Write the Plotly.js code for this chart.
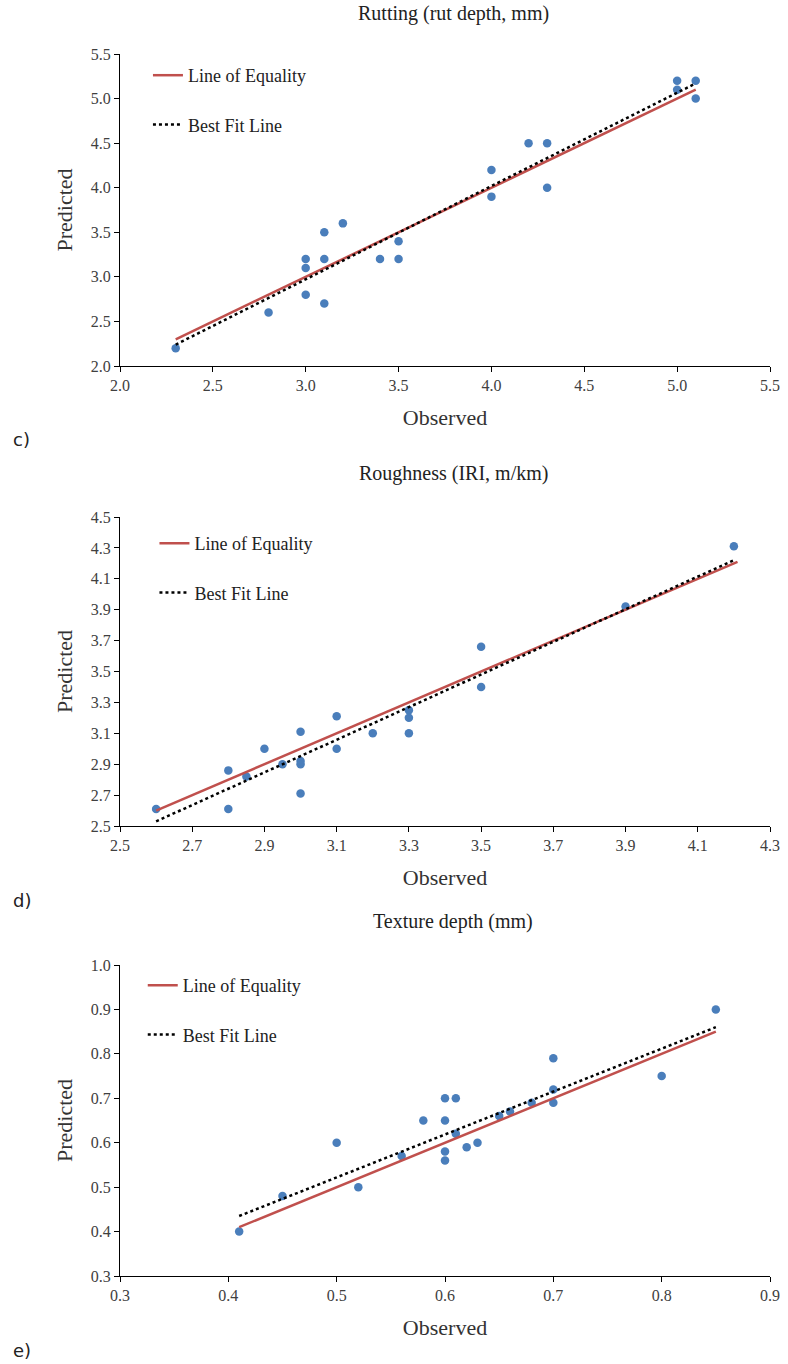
<!DOCTYPE html>
<html>
<head>
<meta charset="utf-8">
<script src="https://cdn.plot.ly/plotly-3.0.1.min.js"></script>
<style>html,body{margin:0;padding:0;background:#fff;}#chart{width:788px;height:1364px;}</style>
</head>
<body>
<div id="chart"></div>
<script>
// ---- Data ----
const panelTitles = ["Rutting (rut depth, mm)", "Roughness (IRI, m/km)", "Texture depth (mm)"];
const panelLabels = ["c)", "d)", "e)"];

const rutObs  = [2.3, 2.8, 3.0, 3.0, 3.0, 3.1, 3.1, 3.1, 3.2, 3.4, 3.5, 3.5, 4.0, 4.0, 4.2, 4.3, 4.3, 5.0, 5.0, 5.1, 5.1];
const rutPred = [2.2, 2.6, 3.2, 3.1, 2.8, 3.5, 3.2, 2.7, 3.6, 3.2, 3.4, 3.2, 4.2, 3.9, 4.5, 4.5, 4.0, 5.2, 5.1, 5.2, 5.0];
const rutEqX = [2.3, 5.1], rutEqY = [2.3, 5.1];
const rutFitX = [2.3, 5.1], rutFitY = [2.24, 5.17];

const iriObs  = [2.6, 2.8, 2.8, 2.85, 2.9, 2.95, 3.0, 3.0, 3.0, 3.0, 3.1, 3.1, 3.2, 3.3, 3.3, 3.3, 3.5, 3.5, 3.9, 4.2];
const iriPred = [2.61, 2.61, 2.86, 2.82, 3.0, 2.9, 3.11, 2.92, 2.9, 2.71, 3.21, 3.0, 3.1, 3.25, 3.2, 3.1, 3.66, 3.4, 3.92, 4.31];
const iriEqX = [2.6, 4.21], iriEqY = [2.6, 4.21];
const iriFitX = [2.6, 4.2], iriFitY = [2.53, 4.22];

const texObs  = [0.41, 0.45, 0.5, 0.52, 0.56, 0.58, 0.6, 0.6, 0.6, 0.6, 0.61, 0.61, 0.62, 0.63, 0.65, 0.66, 0.68, 0.7, 0.7, 0.7, 0.8, 0.85];
const texPred = [0.40, 0.48, 0.6, 0.5, 0.57, 0.65, 0.7, 0.65, 0.58, 0.56, 0.7, 0.62, 0.59, 0.6, 0.66, 0.67, 0.69, 0.79, 0.72, 0.69, 0.75, 0.9];
const texEqX = [0.41, 0.85], texEqY = [0.41, 0.85];
const texFitX = [0.41, 0.85], texFitY = [0.435, 0.86];

const xRanges = [[2.0, 5.5], [2.5, 4.3], [0.3, 0.9]];
const yRanges = [[2.0, 5.5], [2.5, 4.5], [0.3, 1.0]];
const dticks = [0.5, 0.2, 0.1];

// ---- Layout helpers ----
const W = 788, H = 1364;
const plotTops = [54, 517, 965], plotBots = [366, 826, 1276];
const titleYs = [14, 473, 922];
const legendTops = [57, 525, 967];
const serif = "Liberation Serif, Times New Roman, serif";
const markerColor = "#4a7ebb", eqColor = "#c0504d";

const sets = [
  [rutObs, rutPred, rutEqX, rutEqY, rutFitX, rutFitY],
  [iriObs, iriPred, iriEqX, iriEqY, iriFitX, iriFitY],
  [texObs, texPred, texEqX, texEqY, texFitX, texFitY]
];

const traces = [];
const layout = {
  width: W, height: H,
  margin: {l: 120, r: 18, t: 0, b: 0},
  paper_bgcolor: "#fff", plot_bgcolor: "#fff",
  showlegend: true,
  annotations: []
};
const legendX = [0.043, 0.053, 0.035];

sets.forEach((s, i) => {
  const n = i + 1;
  const xa = n === 1 ? "x" : "x" + n, ya = n === 1 ? "y" : "y" + n;
  const lg = n === 1 ? "legend" : "legend" + n;
  traces.push({x: s[0], y: s[1], xaxis: xa, yaxis: ya, type: "scatter", mode: "markers",
    marker: {color: markerColor, size: 8.5}, showlegend: false, hoverinfo: "x+y"});
  traces.push({x: s[2], y: s[3], xaxis: xa, yaxis: ya, type: "scatter", mode: "lines",
    name: "Line of Equality", legend: lg, legendgroup: "eq" + n,
    line: {color: eqColor, width: 2.5}});
  traces.push({x: s[4], y: s[5], xaxis: xa, yaxis: ya, type: "scatter", mode: "lines",
    name: "Best Fit Line", legend: lg, legendgroup: "fit" + n,
    line: {color: "#000", width: 2.5, dash: "dot"}});

  const dom = [1 - plotBots[i] / H, 1 - plotTops[i] / H];
  const axisCommon = {showgrid: false, zeroline: false, showline: true, linecolor: "#000", linewidth: 1,
    ticks: "outside", ticklen: 5, tickcolor: "#000", tickwidth: 1,
    tickfont: {family: serif, size: 16, color: "#404040"}, tickformat: ".1f"};
  layout["xaxis" + (n === 1 ? "" : n)] = Object.assign({}, axisCommon, {
    domain: [0, 1], anchor: ya, range: xRanges[i], tick0: xRanges[i][0], dtick: dticks[i],
    title: {text: "Observed", font: {family: serif, size: 22, color: "#333"}, standoff: 16}
  });
  layout["yaxis" + (n === 1 ? "" : n)] = Object.assign({}, axisCommon, {
    domain: dom, anchor: xa, range: yRanges[i], tick0: yRanges[i][0], dtick: dticks[i],
    title: {text: "Predicted", font: {family: serif, size: 22, color: "#333"}, standoff: 12}
  });
  layout[lg] = {x: legendX[i], y: 1 - legendTops[i] / H, xanchor: "left", yanchor: "top", xref: "paper", yref: "paper",
    bgcolor: "rgba(0,0,0,0)", font: {family: serif, size: 18, color: "#222"},
    traceorder: "grouped", tracegroupgap: 23, itemwidth: 30};

  layout.annotations.push({text: panelTitles[i], xref: "paper", yref: "paper",
    x: (453 - 120) / 650, y: 1 - titleYs[i] / H, xanchor: "center", yanchor: "middle",
    showarrow: false, font: {family: serif, size: 20, color: "#222"}});
  layout.annotations.push({text: panelLabels[i], xref: "paper", yref: "paper",
    x: -109 / 650, y: 1 - (plotBots[i] + 74) / H, xanchor: "left", yanchor: "middle",
    showarrow: false, font: {family: "DejaVu Sans, sans-serif", size: 18, color: "#222"}});
});

Plotly.newPlot("chart", traces, layout, {displayModeBar: false, staticPlot: true});
</script>
</body>
</html>
